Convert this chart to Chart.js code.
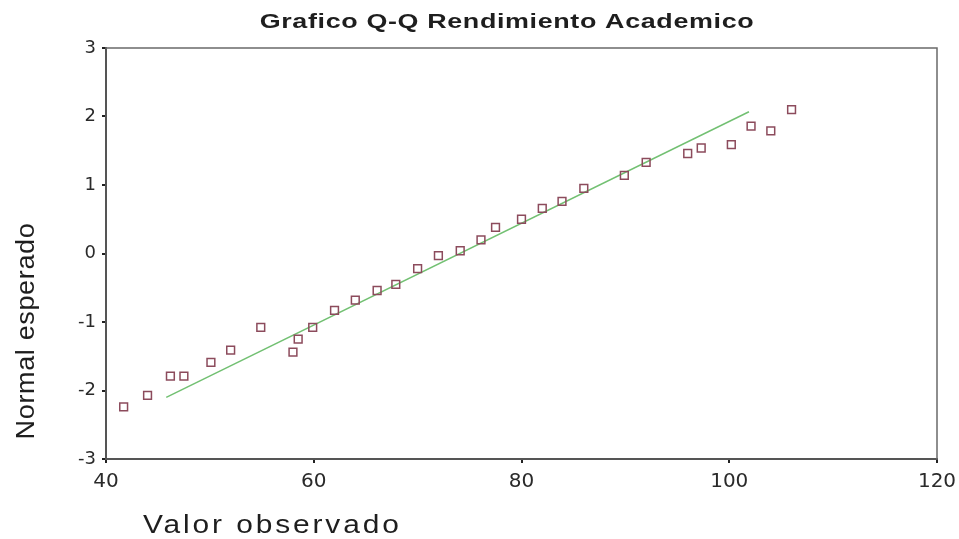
<!DOCTYPE html>
<html>
<head>
<meta charset="utf-8">
<script src="https://cdn.jsdelivr.net/npm/chart.js@4/dist/chart.umd.min.js"></script>
<style>
  html, body { margin: 0; padding: 0; background: #fff; }
  #wrap { width: 959px; height: 539px; }
</style>
</head>
<body>
<div id="wrap"><canvas id="qq"></canvas></div>
<script>
// observed values and expected normal quantiles
const observed = [41.7, 44.0, 46.2, 47.5, 50.1, 52.0, 54.9, 58.0, 58.5, 59.9,
                  62.0, 64.0, 66.1, 67.9, 70.0, 72.0, 74.1, 76.1, 77.5, 80.0,
                  82.0, 83.9, 86.0, 89.9, 92.0, 96.0, 97.3, 100.2, 102.1, 104.0, 106.0];
const expected = [-2.24, -2.07, -1.79, -1.79, -1.59, -1.41, -1.08, -1.44, -1.25, -1.08,
                  -0.83, -0.68, -0.54, -0.45, -0.22, -0.03, 0.04, 0.20, 0.38, 0.50,
                  0.66, 0.76, 0.95, 1.14, 1.33, 1.46, 1.54, 1.59, 1.86, 1.79, 2.10];
// reference line end points
const lineX = [45.8, 101.9];
const lineY = [-2.10, 2.07];

const xTicks = [40, 60, 80, 100, 120];
const yTicks = [-3, -2, -1, 0, 1, 2, 3];

const chartTitle = 'Grafico Q-Q Rendimiento Academico';
const xTitle = 'Valor observado';
const yTitle = 'Normal esperado';

const FONT = '"Liberation Sans", Arial, sans-serif';
const TICKFONT = '"DejaVu Sans", sans-serif';

const decor = {
  id: 'decor',
  afterDraw(chart) {
    const { ctx, chartArea: a } = chart;
    ctx.save();
    // frame top / right
    ctx.strokeStyle = '#6a6a6a';
    ctx.lineWidth = 1.5;
    ctx.beginPath();
    ctx.moveTo(a.left, a.top);
    ctx.lineTo(a.right, a.top);
    ctx.lineTo(a.right, a.bottom);
    ctx.stroke();

    ctx.fillStyle = '#1e1e1e';
    ctx.textBaseline = 'middle';

    // title (stretched like the original)
    ctx.save();
    ctx.translate(507, 22);
    ctx.scale(1.28, 1);
    ctx.font = 'bold 21px ' + FONT;
    ctx.letterSpacing = '0.5px';
    ctx.textAlign = 'center';
    ctx.fillText(chartTitle, 0, 0);
    ctx.restore();

    // x title
    ctx.save();
    ctx.translate(143, 526);
    ctx.scale(1.15, 1);
    ctx.font = '26px ' + FONT;
    ctx.letterSpacing = '2.5px';
    ctx.textAlign = 'left';
    ctx.fillText(xTitle, 0, 0);
    ctx.restore();

    // y title
    ctx.save();
    ctx.translate(27, 331);
    ctx.rotate(-Math.PI / 2);
    ctx.scale(1.08, 1);
    ctx.font = '25px ' + FONT;
    ctx.letterSpacing = '0.6px';
    ctx.textAlign = 'center';
    ctx.fillText(yTitle, 0, 0);
    ctx.restore();

    ctx.restore();
  }
};

new Chart(document.getElementById('qq'), {
  type: 'scatter',
  data: {
    datasets: [
      {
        label: 'Observado',
        data: observed.map((v, i) => ({ x: v, y: expected[i] })),
        pointStyle: 'rect',
        pointRadius: 5.5,
        backgroundColor: 'rgba(255,255,255,0)',
        borderColor: '#8c4b5c',
        borderWidth: 1.5
      },
      {
        label: 'Recta',
        type: 'line',
        data: lineX.map((v, i) => ({ x: v, y: lineY[i] })),
        borderColor: '#72c072',
        borderWidth: 1.5,
        pointRadius: 0,
        fill: false
      }
    ]
  },
  options: {
    responsive: true,
    maintainAspectRatio: false,
    animation: false,
    layout: { padding: { top: 48, right: 22, left: 0, bottom: 0 } },
    plugins: { legend: { display: false }, tooltip: { enabled: false } },
    scales: {
      x: {
        type: 'linear',
        min: 40, max: 120,
        afterBuildTicks: s => { s.ticks = xTicks.map(v => ({ value: v })); },
        afterFit: s => { s.height = 80; s.paddingLeft = 0; s.paddingRight = 0; },
        grid: { display: true, drawOnChartArea: false, drawTicks: true, tickLength: 4, color: '#222', lineWidth: 2 },
        border: { display: true, color: '#555', width: 2 },
        ticks: { color: '#2a2a2a', font: { family: TICKFONT, size: 20 }, padding: 7, maxRotation: 0 }
      },
      y: {
        type: 'linear',
        min: -3, max: 3,
        afterBuildTicks: s => { s.ticks = yTicks.map(v => ({ value: v })); },
        afterFit: s => { s.width = 106; s.paddingTop = 0; s.paddingBottom = 0; },
        grid: { display: true, drawOnChartArea: false, drawTicks: true, tickLength: 4, color: '#222', lineWidth: 2 },
        border: { display: true, color: '#555', width: 2 },
        ticks: { color: '#2a2a2a', font: { family: TICKFONT, size: 18 }, padding: 6 }
      }
    }
  },
  plugins: [decor]
});
</script>
</body>
</html>
